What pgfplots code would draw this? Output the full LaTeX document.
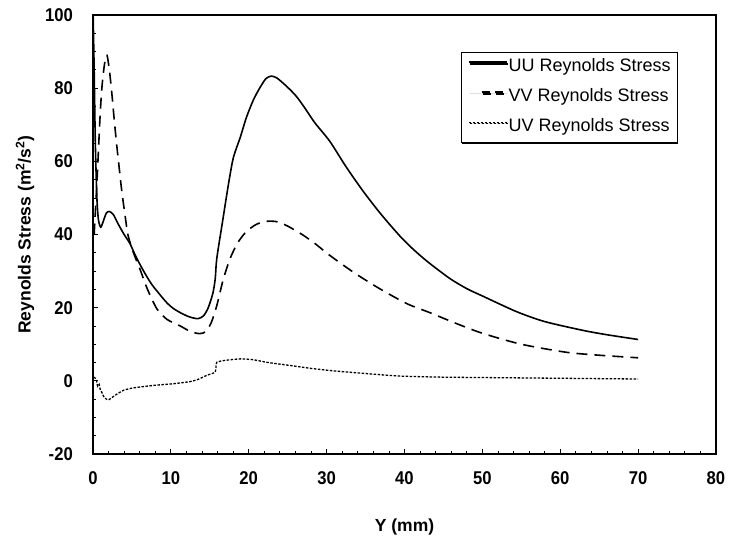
\documentclass[border=0pt]{standalone}
\usepackage{fontspec}
\setmainfont{Liberation Sans}
\newfontfamily\tickfont[FakeStretch=0.9]{Liberation Sans}
\usepackage{pgfplots}
\pgfplotsset{compat=1.18}
\usetikzlibrary{shadows}

\begin{document}
\begin{tikzpicture}
\path[use as bounding box] (-93pt,-87pt) rectangle (636pt,454pt);
\begin{axis}[
  at={(0,0)}, anchor=south west,
  scale only axis, width=623pt, height=439pt,
  xmin=0, xmax=80, ymin=-20, ymax=100,
  xtick={0,10,...,80}, ytick={-20,0,...,100},
  minor x tick num=4, minor y tick num=3,
  tick align=inside, xtick pos=bottom, ytick pos=left,
  major tick length=5pt, minor tick length=3pt,
  every tick/.style={black, line width=0.8pt},
  axis line style={line width=1.3pt},
  /pgf/number format/assume math mode=true,
  ticklabel style={font=\tickfont\bfseries\fontsize{18.5}{19}\selectfont, inner sep=0pt},
  xticklabel style={anchor=north, yshift=-17pt},
  yticklabel style={anchor=east, xshift=-20pt},
  xlabel={Y (mm)},
  ylabel={Reynolds Stress (m\textsuperscript{2}/s\textsuperscript{2})},
  label style={font=\bfseries\fontsize{17.5}{18}\selectfont},
  xlabel style={at={(axis description cs:0.5,-0.166)}, anchor=center},
  ylabel style={at={(axis description cs:-0.109,0.5)}, anchor=center},
  legend style={at={(axis description cs:0.939,0.916)}, anchor=north east,
    draw=black, line width=0.6pt, fill=white,
    drop shadow={shadow xshift=0.8pt, shadow yshift=-1.6pt, fill=black, opacity=1},
    font=\fontsize{18}{19}\selectfont,
    inner xsep=7pt, inner ysep=0pt,
    nodes={inner sep=0pt, text height=19pt, text depth=11pt},
    /tikz/every odd column/.append style={column sep=1pt}},
  legend cell align=left,
  legend image code/.code={\draw[#1] (0pt,5pt) -- (38pt,5pt);},
]
% UU component
\addplot[black, line width=1.6pt, smooth, tension=0.45] coordinates {
(0.02,100) (0.15,85) (0.3,65) (0.5,50) (0.7,44) (1.0,42) (1.3,43.5)
(1.7,45.8) (2.1,46.3) (2.6,45.5) (3.2,43) (4.0,40) (4.75,37.5) (5.5,34)
(6.5,30) (7.5,26.5) (8.5,23.8) (9.5,21.3) (10.3,19.8) (11.5,18.3)
(12.5,17.4) (13.5,17) (14.2,17.8) (14.8,20) (15.4,24) (15.7,28)
(15.9,33.5) (16.7,44.4) (17.3,52.5) (18.0,60.8) (18.9,66.5) (19.7,72)
(20.6,76.8) (21.4,80) (22.2,82.6) (22.9,83.3) (23.6,82.8) (24.5,81.2)
(25.3,79.6) (26.1,77.8) (27,75.2) (28.5,70.5) (30.4,65.5) (32.5,58.5)
(34.7,51.8) (37,45.5) (39.4,39.6) (41.1,36) (43,32.5) (45.8,28) (48,25.2)
(50,23.2) (54.4,18.9) (58,16.2) (62.9,13.8) (66,12.6) (70,11.3)
};
\addlegendentry{UU Reynolds Stress}
% VV component
\addplot[black, line width=1.6pt, dash pattern=on 11pt off 7pt, smooth, tension=0.45,
  legend image post style={dash pattern=on 8pt off 5pt on 8pt off 16pt, dash phase=24pt}] coordinates {
(0.15,40) (0.3,46) (0.5,54) (0.7,63) (0.9,72) (1.1,79) (1.3,83.6)
(1.55,87.5) (1.8,89) (2.1,85) (2.4,79) (2.7,72) (3.0,65.4) (3.35,58.5)
(3.7,51.8) (4.1,45.5) (4.5,39.8) (5.2,35) (6.0,30.7) (7.0,25) (8.2,19.7)
(9.5,16.8) (11.2,15) (12.5,13.5) (13.7,12.9) (14.5,13.5) (15.2,16)
(15.9,20.6) (16.7,27.5) (17.6,33.4) (18.6,37.8) (19.7,40.8) (21,42.8)
(22.3,43.6) (23.6,43.5) (25,42.3) (27,39.8) (28.7,37.2) (30.4,34.3)
(33.5,29.6) (36.8,25.2) (40.3,21.1) (43.3,18.6) (46.5,15.8) (50,13)
(55,10) (60.8,7.8) (65,7) (70,6.3)
};
\addlegendentry{VV Reynolds Stress}
% UV component
\addplot[black, line width=1.3pt, dash pattern=on 2.5pt off 1.5pt, smooth, tension=0.35] coordinates {
(0.1,1) (0.4,0.5) (0.6,-1.5) (0.8,-1) (0.9,-2.2) (1.1,-3) (1.3,-4)
(1.6,-4.8) (2,-5.2) (2.8,-4) (3.9,-2.6) (5,-2) (6,-1.7) (8,-1.2)
(10.3,-0.8) (12.5,-0.2) (13.5,0.4) (14.6,1.5) (15.3,2) (15.7,2.4)
(15.8,3.8) (15.9,5.1) (17,5.6) (18.9,6) (20.5,5.8) (22.5,5) (25.3,4.2)
(28,3.4) (31,2.7) (35,2) (39.4,1.3) (45,1) (50,0.9) (55,0.8) (60,0.7)
(70,0.5)
};
\addlegendentry{UV Reynolds Stress}
\end{axis}
\end{tikzpicture}
\end{document}
